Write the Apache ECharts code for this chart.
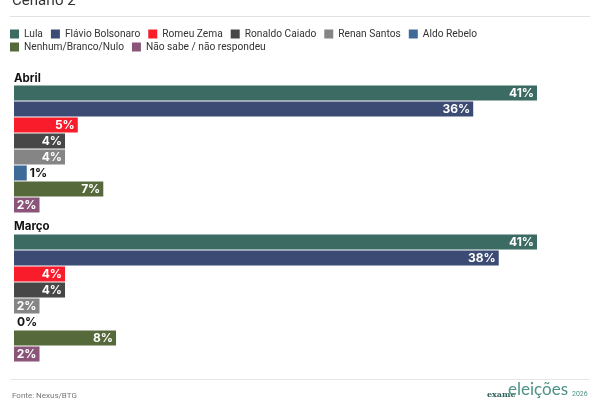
<!DOCTYPE html>
<html><head><meta charset="utf-8">
<script src="https://cdn.jsdelivr.net/npm/echarts@6/dist/echarts.min.js"></script>
<style>html,body{margin:0;padding:0;background:#fff}#c{width:600px;height:400px}</style>
</head><body><div id="c"></div>
<script>
var candidates = ['Lula','Flávio Bolsonaro','Romeu Zema','Ronaldo Caiado','Renan Santos','Aldo Rebelo','Nenhum/Branco/Nulo','Não sabe / não respondeu'];
var colors = ['#3b6b63','#3c4b74','#f91d2c','#474747','#858585','#3d6a96','#56693b','#8b5579'];
var months = ['Abril','Março'];
var abril = [41,36,5,4,4,1,7,2];
var marco = [41,38,4,4,2,0,8,2];
var monthValues = [abril, marco];

var chart = echarts.init(document.getElementById('c'), null, {renderer:'canvas'});
var series = [];
monthValues.forEach(function(vals, g){
  candidates.forEach(function(name, i){
    var v = vals[i];
    var small = v <= 1;
    series.push({
      name: name, type: 'bar', xAxisIndex: g, yAxisIndex: g,
      barWidth: 15, barGap: '6.67%',
      itemStyle: {color: colors[i]},
      data: [{value: v, label: small ? {position:'right', distance: 3, color:'#111'} : {}}],
      label: {show: true, position: 'insideRight', distance: 3, color: '#fff', fontWeight: 'bold', fontSize: 12, fontFamily: 'Inter', formatter: '{c}%'},
      emphasis: {disabled: true}, animation: false
    });
  });
});
var legendText = {fontSize: 10.2, color: '#333', fontFamily: 'Roboto'};
chart.setOption({
  animation: false,
  legend: [
    {data: candidates.slice(0,6), left: 10, top: 29, itemWidth: 9, itemHeight: 9, itemGap: 8, icon: 'rect', textStyle: legendText, selectedMode: false, padding: 0},
    {data: candidates.slice(6), left: 10, top: 42, itemWidth: 9, itemHeight: 9, itemGap: 8, icon: 'rect', textStyle: legendText, selectedMode: false, padding: 0}
  ],
  grid: [
    {left: 14, top: 85, width: 523, height: 128},
    {left: 14, top: 234, width: 523, height: 128}
  ],
  xAxis: [
    {gridIndex: 0, type: 'value', min: 0, max: 41, show: false},
    {gridIndex: 1, type: 'value', min: 0, max: 41, show: false}
  ],
  yAxis: [
    {gridIndex: 0, type: 'category', data: [months[0]], inverse: true, show: false},
    {gridIndex: 1, type: 'category', data: [months[1]], inverse: true, show: false}
  ],
  series: series,
  graphic: [
    {type:'text', left: 12, top: -6, style:{text:'Cenário 2', fontSize: 15, fill:'#333', fontFamily:'Roboto'}},
    {type:'line', shape:{x1:10, y1:16.5, x2:590, y2:16.5}, style:{stroke:'#e2e2e2', lineWidth:1}},
    {type:'text', left: 14, top: 73, style:{text: months[0], fontSize: 11.5, fontWeight:'bold', fill:'#111', fontFamily:'Inter'}},
    {type:'text', left: 14, top: 221, style:{text: months[1], fontSize: 11.5, fontWeight:'bold', fill:'#111', fontFamily:'Inter'}},
    {type:'line', shape:{x1:10, y1:379.5, x2:590, y2:379.5}, style:{stroke:'#e6e6e6', lineWidth:1}},
    {type:'text', left: 12, top: 392, style:{text:'Fonte: Nexus/BTG', fontSize: 8, fill:'#777', fontFamily:'Roboto'}},
    {type:'text', left: 487, top: 391, style:{text:'exame', fontSize: 8, fontWeight:'bold', fill:'#2f5f58', fontFamily:'DejaVu Serif'}},
    {type:'text', left: 508, top: 381, style:{text:'eleições', fontSize: 17, fill:'#4e9186', fontFamily:'Lato'}},
    {type:'text', left: 572, top: 391, style:{text:'2026', fontSize: 7, fill:'#4e9186', fontFamily:'Roboto'}}
  ]
});
</script></body></html>
